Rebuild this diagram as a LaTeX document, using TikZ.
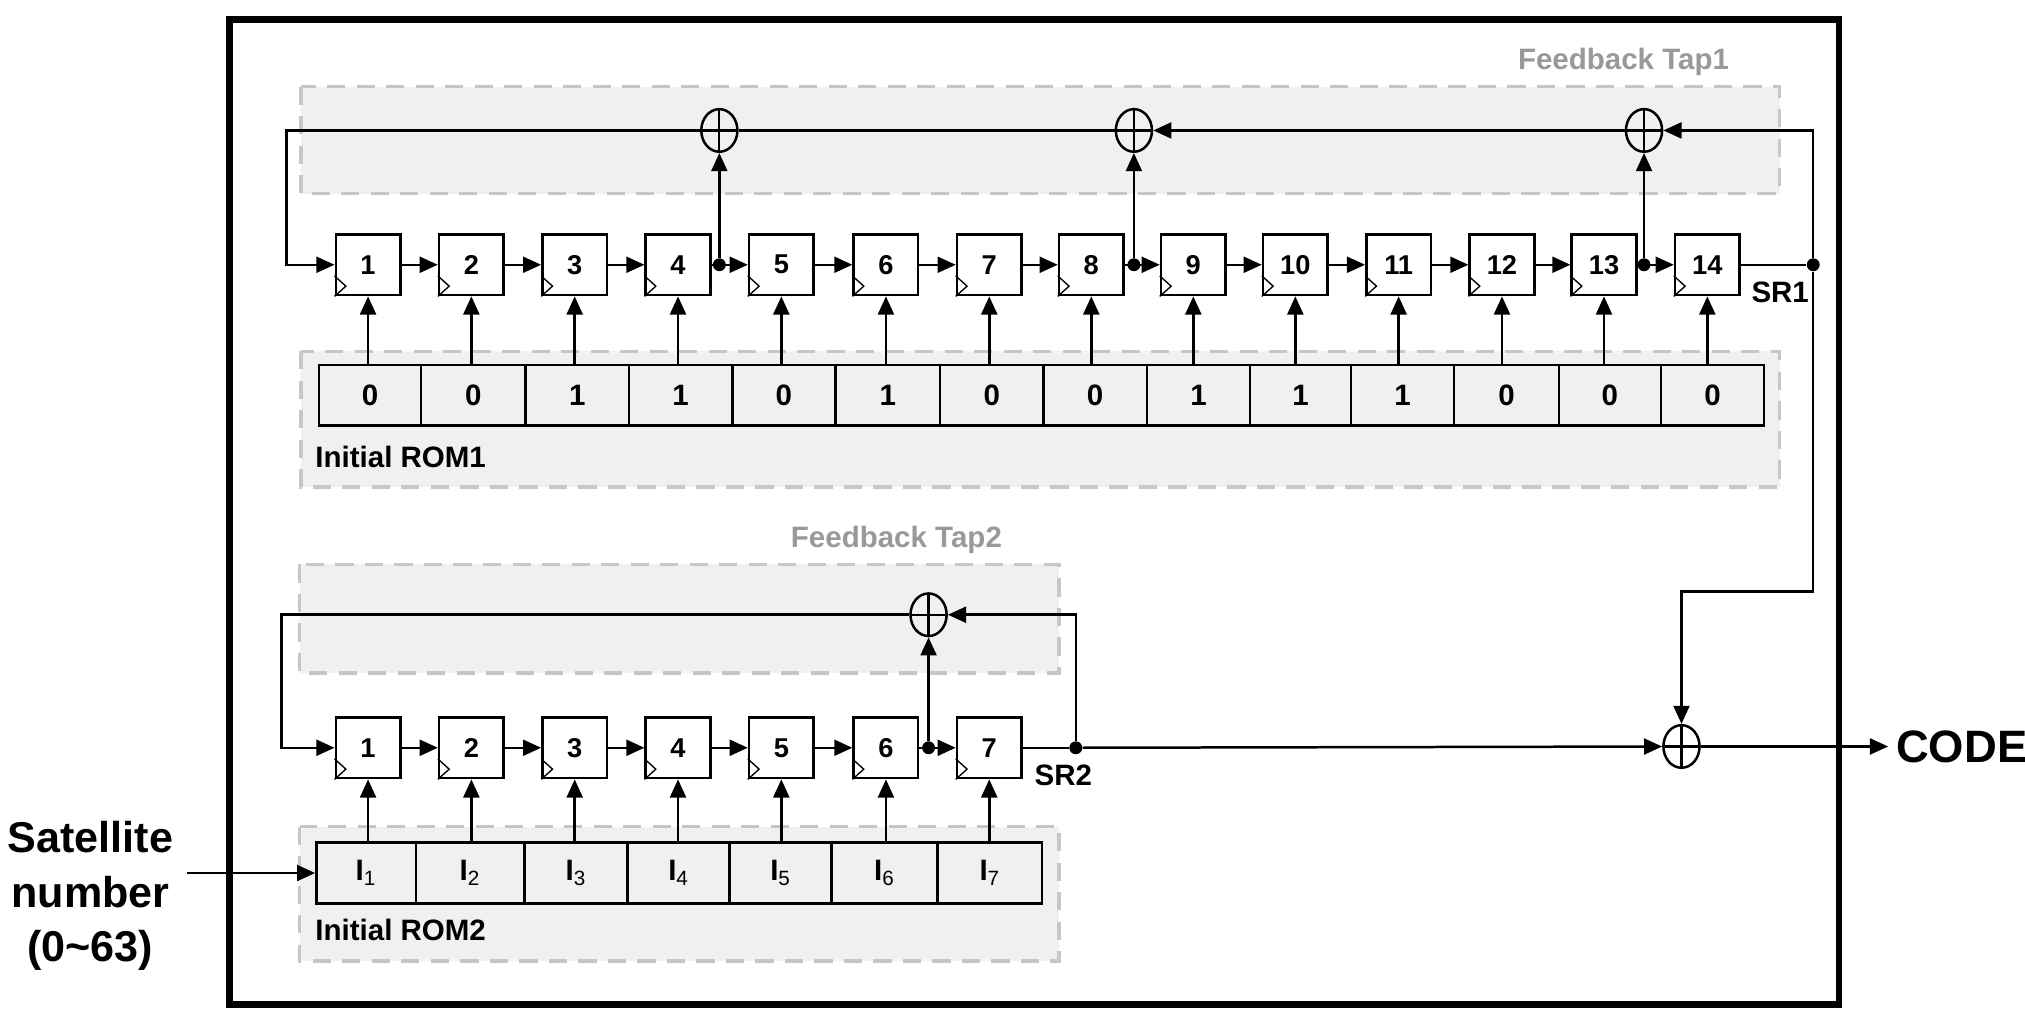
\documentclass[tikz,border=0pt]{standalone}
\usepackage{fontspec}
\setmainfont{Liberation Sans}
\usetikzlibrary{arrows.meta,shapes.geometric}
\begin{document}
\begin{tikzpicture}[x=0.2mm,y=-0.2mm,
  wire/.style={line width=1.1pt,-{Triangle[length=8pt,width=7pt]}},
  pl/.style={line width=1.1pt},
  reg/.style={draw,line width=1.1pt,fill=white,minimum width=10mm,minimum height=9.4mm,inner sep=0pt,font=\bfseries\fontsize{12}{13}\selectfont},
  cell/.style={draw,line width=1.1pt,fill=black!6,minimum height=9.4mm,inner sep=0pt,font=\bfseries\fontsize{13}{14}\selectfont},
  grp/.style={draw=black!22,dashed,dash pattern=on 8pt off 5pt,line width=1.5pt,fill=black!6},
  xor/.style={draw,line width=1.1pt,ellipse,minimum width=5.6mm,minimum height=6.6mm,inner sep=0pt,fill=none,
    path picture={\draw[line width=1pt] (path picture bounding box.north)--(path picture bounding box.south) (path picture bounding box.west)--(path picture bounding box.east);}},
  dot/.style={circle,fill,inner sep=0pt,minimum size=2mm},
  lbl/.style={font=\bfseries\fontsize{13}{15}\selectfont},
  gl/.style={font=\bfseries\fontsize{13}{15}\selectfont,text=black!40}]
\useasboundingbox (0,0) rectangle (1568,793);
% frame
\draw[line width=3pt] (178,15) rectangle (1424,778);
% groups
\draw[grp] (233,67) rectangle (1378,150);
\draw[grp] (233,272) rectangle (1378,377);
\draw[grp] (232,437) rectangle (820,521);
\draw[grp] (232,640) rectangle (820,744);
\node[gl,anchor=east] (ft1) at (1345,48) {Feedback Tap1};
\node[gl,anchor=east] (ft2) at (782,418) {Feedback Tap2};
% registers row 1
\foreach \i/\x in {1/285,2/365,3/445,4/525,5/605,6/686,7/766,8/845,9/924,10/1003,11/1083,12/1163,13/1242,14/1322}{
  \node[reg] (a\i) at (\x,205) {\i};
  \draw[line width=0.6pt] ([yshift=9pt]a\i.south west) -- ++(5pt,-4.5pt) -- ++(-5pt,-4.5pt);
}
% ROM1 cells
\foreach \i/\l/\r/\v in {1/247/326/0,2/326/407/0,3/407/487/1,4/487/567/1,5/567/647/0,6/647/728/1,7/728/808/0,8/808/888/0,9/888/968/1,10/968/1046/1,11/1046/1126/1,12/1126/1207/0,13/1207/1286/0,14/1286/1366/0}{
  \node[cell,minimum width={(\r-\l)*0.2mm}] (c\i) at ({(\l+\r)/2},306) {\v};
}
\foreach \i in {1,...,14}{\draw[wire] (c\i.north -| a\i) -- (a\i.south);}
\node[lbl,anchor=west] (rom1) at (238,354) {Initial ROM1};
% row1 shifts
\foreach \i [evaluate=\i as \j using int(\i+1)] in {1,2,3,5,6,7,9,10,11,12}{\draw[wire] (a\i.east) -- (a\j.west);}
\draw[wire] (a4.east) -- (a5.west); \draw[wire] (a8.east) -- (a9.west); \draw[wire] (a13.east) -- (a14.west);
\node[dot] (d4) at (557,205) {}; \node[dot] (d8) at (878,205) {}; \node[dot] (d13) at (1273,205) {};
\node[xor] (x1) at (557,101) {}; \node[xor] (x2) at (878,101) {}; \node[xor] (x3) at (1273,101) {};
\draw[wire] (d4) -- (x1); \draw[wire] (d8) -- (x2); \draw[wire] (d13) -- (x3);
\node[dot] (o1) at (1404,205) {};
\draw[pl] (a14.east) -- (o1);
\coordinate (k1) at (1404,101);
\draw[wire] (o1) -- (k1) -- (x3);
\draw[wire] (x3) -- (x2);
\draw[pl] (x2) -- (x1);
\coordinate (k2) at (222,101);
\draw[wire] (x1) -- (k2) |- (a1.west);
\node[lbl,anchor=north west] (sr1) at (1350,212) {SR1};
% row 2
\foreach \i/\x in {1/285,2/365,3/445,4/525,5/605,6/686,7/766}{
  \node[reg] (b\i) at (\x,579) {\i};
  \draw[line width=0.6pt] ([yshift=9pt]b\i.south west) -- ++(5pt,-4.5pt) -- ++(-5pt,-4.5pt);
}
\foreach \i/\l/\r in {1/245/322,2/322/406,3/406/486,4/486/565,5/565/644,6/644/726,7/726/807}{
  \node[cell,minimum width={(\r-\l)*0.2mm}] (e\i) at ({(\l+\r)/2},676) {I\textsubscript{\mdseries\i}};
}
\foreach \i in {1,...,7}{\draw[wire] (e\i.north -| b\i) -- (b\i.south);}
\node[lbl,anchor=west] (rom2) at (238,720) {Initial ROM2};
\foreach \i [evaluate=\i as \j using int(\i+1)] in {1,...,6}{\draw[wire] (b\i.east) -- (b\j.west);}
\node[dot] (d6) at (719,579) {};
\node[xor] (x4) at (719,476) {};
\draw[wire] (d6) -- (x4);
\node[dot] (o2) at (833,579) {};
\draw[pl] (b7.east) -- (o2);
\coordinate (k3) at (833,476);
\draw[wire] (o2) -- (k3) -- (x4);
\coordinate (k4) at (218,476);
\draw[wire] (x4) -- (k4) |- (b1.west);
\node[lbl,anchor=north west] (sr2) at (795,586) {SR2};
% output
\node[xor] (x5) at (1302,578) {};
\coordinate (k5) at (1404,458); \coordinate (k6) at (1302,458);
\draw[wire] (o1) -- (k5) -- (k6) -- (x5);
\draw[wire] (o2) -- (x5);
\node[font=\bfseries\fontsize{20}{22}\selectfont,anchor=west] (code) at (1462,578) {CODE};
\draw[wire] (x5) -- (code);
\node[font=\bfseries\fontsize{19}{24}\selectfont,align=center] (sat) at (70,694) {Satellite\\number\\(0\textasciitilde63)};
\coordinate (s0) at (145,676);
\draw[wire] (s0) -- (e1.west);
\end{tikzpicture}
\end{document}
